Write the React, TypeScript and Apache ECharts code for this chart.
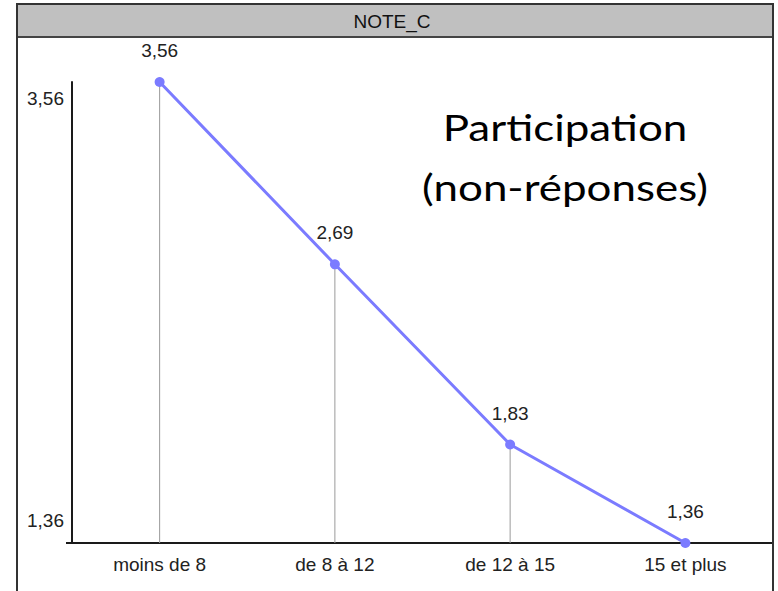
import React, { useEffect, useRef } from "react";
import * as echarts from "echarts";

const chartTitle = "NOTE_C";
const categories = ["moins de 8", "de 8 à 12", "de 12 à 15", "15 et plus"];
const values = [3.56, 2.69, 1.83, 1.36];
const yTickValues = [1.36, 3.56];
const annotationLines = ["Participation", "(non-réponses)"];

const fmt = (v: number) => v.toFixed(2).replace(".", ",");
const SMALL_FONT = "Liberation Sans";
const SMALL_SIZE = 19;

export default function App() {
  const ref = useRef<HTMLDivElement>(null);
  useEffect(() => {
    if (!ref.current) return;
    const chart = echarts.init(ref.current, null, { renderer: "svg" });
    const yMin = Math.min(...yTickValues);
    const yMax = Math.max(...yTickValues);
    chart.setOption({
      animation: false,
      backgroundColor: "#ffffff",
      grid: { left: 72, right: 5, top: 82, bottom: 48, containLabel: false },
      xAxis: {
        type: "category",
        data: categories,
        boundaryGap: true,
        axisLine: { show: true, lineStyle: { color: "#1a1a1a", width: 2 } },
        axisTick: { show: false },
        axisLabel: {
          color: "#222",
          fontFamily: SMALL_FONT,
          fontSize: SMALL_SIZE,
          margin: 12,
        },
        splitLine: { show: false },
      },
      yAxis: {
        type: "value",
        min: yMin,
        max: yMax,
        axisLine: { show: true, lineStyle: { color: "#1a1a1a", width: 2 } },
        axisTick: { show: false },
        axisLabel: { show: false },
        splitLine: { show: false },
      },
      series: [
        {
          type: "bar",
          data: values,
          barWidth: 1,
          itemStyle: { color: "#9a9a9a" },
          z: 1,
          silent: true,
        },
        {
          type: "line",
          data: values,
          symbol: "circle",
          symbolSize: 10,
          lineStyle: { color: "#7b7bff", width: 3 },
          itemStyle: { color: "#7b7bff" },
          z: 3,
          label: {
            show: true,
            position: "top",
            distance: 17,
            color: "#222",
            fontFamily: SMALL_FONT,
            fontSize: SMALL_SIZE,
            formatter: (p: any) => fmt(p.value),
          },
        },
      ],
    });

    const yLabelGraphics = yTickValues.map((v) => {
      const [, py] = chart.convertToPixel({ gridIndex: 0 }, [0, v]) as number[];
      const isMax = v === yMax;
      return {
        type: "text",
        x: 64,
        y: isMax ? py + 16 : py - 23,
        z: 10,
        style: {
          text: fmt(v),
          fill: "#222",
          font: `${SMALL_SIZE}px "${SMALL_FONT}"`,
          textAlign: "right",
          textVerticalAlign: "middle",
        },
      };
    });
    const [, axisY] = chart.convertToPixel({ gridIndex: 0 }, [0, yMin]) as number[];

    chart.setOption({
      graphic: [
        {
          type: "rect",
          shape: { x: 17, y: 4, width: 756, height: 33 },
          style: { fill: "#c0c0c0", stroke: "#444", lineWidth: 2 },
          z: 10,
        },
        {
          type: "text",
          x: 392,
          y: 21,
          z: 11,
          style: {
            text: chartTitle,
            fill: "#111",
            font: `${SMALL_SIZE}px "${SMALL_FONT}"`,
            textAlign: "center",
            textVerticalAlign: "middle",
          },
        },
        {
          type: "rect",
          shape: { x: 17, y: 4, width: 756, height: 620 },
          style: { fill: "none", stroke: "#333", lineWidth: 2 },
          z: 12,
        },
        {
          type: "line",
          shape: { x1: 66, y1: axisY, x2: 72, y2: axisY },
          style: { stroke: "#1a1a1a", lineWidth: 2 },
          z: 10,
        },
        ...yLabelGraphics,
        ...annotationLines.map((t, i) => ({
          type: "text",
          x: 565,
          y: 127 + i * 60,
          scaleX: 1.22,
          z: 10,
          style: {
            text: t,
            fill: "#000",
            font: '36px "Lato"',
            textAlign: "center",
            textVerticalAlign: "middle",
          },
        })),
      ],
    });
    return () => chart.dispose();
  }, []);
  return (
    <div
      ref={ref}
      style={{ position: "fixed", left: 0, top: 0, width: 778, height: 591 }}
    />
  );
}
